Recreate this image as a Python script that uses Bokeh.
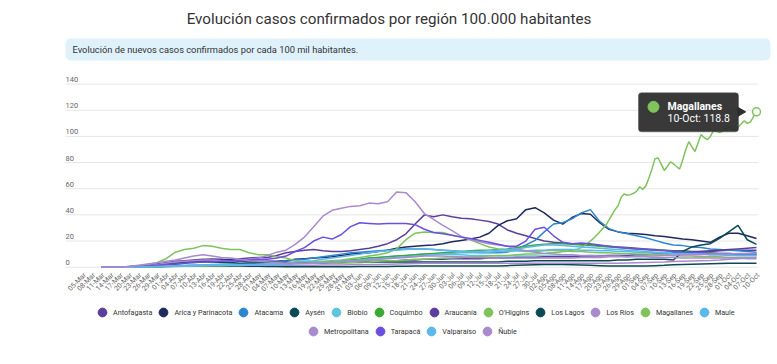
import math
from datetime import date, timedelta

from bokeh.plotting import figure
from bokeh.models import Legend, LegendItem, BoxAnnotation, Label, Range1d
from bokeh.core.properties import value
from bokeh.embed import file_html
from bokeh.resources import INLINE

# ---------------------------------------------------------------- data
TITLE = "Evolución casos confirmados por región 100.000 habitantes"
SUBTITLE = "Evolución de nuevos casos confirmados por cada 100 mil habitantes."

START = date(2020, 3, 5)                      # first category of the x axis
N_DAYS = 220                                  # 05-Mar .. 10-Oct
MONTHS_ES = {3: "Mar", 4: "Abr", 5: "May", 6: "Jun", 7: "Jul", 8: "Ago", 9: "Sep", 10: "Oct"}
LABEL_DAYS = list(range(0, N_DAYS, 3))
X_LABELS = [f"{(START + timedelta(d)).day:02d}-{MONTHS_ES[(START + timedelta(d)).month]}"
            for d in LABEL_DAYS]
DATA_DAYS = list(range(6, N_DAYS, 3))         # readings every 3 days from 11-Mar
Y_TICKS = [0, 20, 40, 60, 80, 100, 120, 140]

ANTOFAGASTA = [0, 0, 0, 0.2, 0.5, 1, 1.5, 2, 3, 3.5,
               4, 4.5, 5, 5.5, 6, 6.5, 7, 7.5, 7.5, 9,
               11, 12, 13, 13.5, 12.5, 12, 12, 12.5, 13.5, 14.5,
               16, 18, 21, 25.5, 33, 40, 38.5, 40, 38.5, 37.5,
               37, 36, 35, 33, 28.5, 26, 24, 22, 20, 19,
               18.5, 18, 17.5, 17, 16.5, 16, 15.5, 15, 14.5, 14,
               13.5, 13, 12.5, 12.5, 12, 12, 12, 12.5, 13, 13,
               13, 13]
ARICA = [0, 0, 0, 0.3, 0.6, 1, 1.5, 2, 2.5, 3,
         5, 5.5, 6, 6, 5.5, 5, 5, 4.5, 4.5, 4.5,
         5, 6, 6.5, 7, 7.5, 8, 9, 10, 10.5, 11,
         12, 13, 14.5, 15.5, 16, 16.5, 17, 18, 19.5, 20.5,
         21.5, 23, 26, 32, 35.5, 37, 44, 45.5, 41.5, 36,
         33, 38, 41, 40.5, 34, 29, 27, 26, 25.5, 25,
         24, 23.5, 22.5, 21.5, 21, 20, 19, 23, 26, 26,
         24, 22]
ATACAMA = [0, 0, 0, 0, 0.2, 0.4, 0.6, 0.8, 1, 1.2,
           1.5, 1.5, 2, 2, 2.5, 2.5, 3, 3, 3.5, 4,
           4.5, 5.5, 6, 7, 8, 9, 10, 11, 11.5, 12,
           12.5, 13, 13.5, 14, 14, 14, 13.5, 13, 12.5, 12,
           11.5, 11, 11, 11, 11.5, 14, 17, 20.5, 27, 33,
           34, 37, 41.5, 44, 35, 29.5, 27, 25.5, 24, 22.5,
           20.5, 18.5, 17, 16.5, 15.5, 15, 14, 13.5, 13, 12.5,
           12, 11.5]
AYSEN = [0, 0, 0, 0, 0, 0, 0.3, 0.5, 0.7, 0.9,
         1, 1, 1, 1, 1, 0.9, 0.8, 0.7, 0.6, 0.5,
         0.4, 0.3, 0.3, 0.3, 0.3, 0.3, 0.3, 0.4, 0.5, 0.5,
         0.5, 0.6, 0.7, 0.8, 0.9, 1, 1, 1, 1, 1,
         1, 1, 1, 1, 1.2, 1.4, 1.6, 1.8, 2, 2,
         2, 1.8, 1.6, 1.4, 1.2, 1, 1, 1, 1, 1,
         1.2, 1.4, 1.8, 2, 2.2, 2.4, 2.6, 2.8, 3, 3,
         3, 3]
BIOBIO = [0, 0, 0, 0.2, 0.4, 0.6, 0.8, 1, 1.2, 1.4,
          1.5, 1.6, 1.7, 1.8, 1.8, 1.8, 1.8, 1.8, 1.9, 2,
          2.2, 2.8, 3, 3.5, 4, 4.5, 5, 5.5, 6, 7,
          7.5, 8, 8.5, 9, 9.5, 10, 10, 10, 9.5, 9.5,
          9, 9, 9, 8.5, 8.5, 8.5, 8.5, 8.5, 8.5, 8.5,
          8.5, 8.5, 8.5, 9, 9, 9, 9, 9, 9.5, 9.5,
          9.5, 9.5, 10, 10, 10, 10, 10, 10, 10, 10,
          10, 9.5]
COQUIMBO = [0, 0, 0, 0, 0.2, 0.4, 0.6, 0.8, 1, 1,
            1.2, 1.2, 1.5, 1.5, 1.5, 1.5, 1.5, 1.5, 2, 2,
            2, 3, 3, 3.5, 4, 4.5, 5, 5.5, 6, 7,
            7.5, 8, 8.5, 9, 9.5, 10, 10.5, 11, 11.5, 12,
            12.5, 13, 13, 13.5, 14, 15, 16, 17, 17.5, 18,
            18, 17.5, 17, 16.5, 16, 15.5, 15, 14.5, 14, 13.5,
            13, 13, 12, 12, 11.5, 11, 11, 10.5, 10.5, 10,
            10, 10]
ARAUCANIA = [0, 0, 0, 0.3, 0.8, 1.5, 2.5, 3.5, 4.5, 5,
             5.5, 6, 6, 5.5, 5, 4.5, 4, 4, 3.5, 3.5,
             3.5, 3.5, 3.5, 3.5, 3.5, 3.5, 4, 4, 4, 4.5,
             4.5, 5, 5, 5.5, 5.5, 6, 6, 6, 6.5, 6.5,
             6.5, 6.5, 7, 7, 7, 7.5, 7.5, 7.5, 8, 8,
             8, 8, 8.5, 8.5, 8.5, 9, 9, 9, 9.5, 9.5,
             10, 10, 11, 11, 11.5, 12, 12.5, 13, 13.5, 14,
             14.5, 15]
OHIGGINS = [0, 0, 0, 0, 0, 0.2, 0.3, 0.5, 0.6, 0.8,
            1, 1, 1.2, 1.2, 1.5, 1.5, 1.5, 2, 2, 2.5,
            2.5, 3, 3.5, 4, 4.5, 5, 5.5, 6.5, 7.5, 8.5,
            9.5, 11, 14, 21, 26, 27, 26.5, 26.5, 24.5, 23,
            21, 18, 15.5, 14, 13, 12.5, 12, 12, 12.5, 13,
            12.5, 12, 12, 11.5, 11, 11, 10.5, 10.5, 10, 10,
            9.5, 9.5, 9, 8.5, 8.5, 8, 8, 8, 7.5, 7.5,
            7.5, 7.5]
LOS_LAGOS = [0, 0, 0, 0.5, 1, 1.5, 2, 2.5, 3, 3.5,
             3.5, 4, 4, 3.5, 3.5, 3, 3, 3, 3, 3,
             3, 3, 3, 3, 3, 3.5, 3.5, 3.5, 3.5, 4,
             4, 4, 4, 4, 4, 4, 4, 4, 4, 4,
             4, 4, 4, 4, 4.5, 4.5, 4.5, 5, 5, 5,
             5, 5, 5, 5, 5, 5, 5.5, 5.5, 6, 6,
             6, 6, 5.5, 12, 15.5, 17, 18, 22, 27, 32,
             21, 17.5]
LOS_RIOS = [0, 0, 0, 0.2, 0.4, 0.6, 0.8, 1, 1, 1.2,
            1.2, 1.4, 1.4, 1.5, 1.5, 1.5, 1.5, 1.5, 1.5, 1.5,
            1.5, 1.5, 1.5, 1.5, 1.6, 1.6, 1.7, 1.8, 1.9, 2,
            2, 2.2, 2.4, 2.6, 2.8, 3, 3, 3, 3, 3,
            3, 3, 3, 3, 3, 3, 3, 3, 3, 3,
            3, 3, 3, 3, 3, 3, 3, 3.2, 3.4, 3.6,
            3.8, 4, 4.4, 4.6, 4.8, 5, 5.2, 5.5, 6, 6.5,
            7, 7.5]
# Magallanes: every 3 days until late July, then daily readings (02-Ago .. 10-Oct)
MAGALLANES_EARLY = [0, 0, 0, 0.5, 1, 2, 3.5, 6.5, 11.5, 13.5,
                    14.5, 16.5, 16, 14.5, 13.5, 13.5, 11, 9.5, 9.5, 8,
                    7, 5, 4.5, 4, 3.5, 3, 3, 3.5, 4, 4,
                    4.5, 5, 5, 5.5, 6, 6, 6.5, 7, 7, 7.5,
                    8, 8, 8.5, 9, 9, 9.5, 10, 10]
MAGALLANES_LATE = [10.5, 10.8, 11, 11, 11.5, 11.5, 12, 12, 12.5, 13,
                   13.5, 14, 15, 16.5, 18, 20, 22, 24.5, 27, 29.5,
                   32, 36, 40, 44, 47, 53.5, 56, 55, 55.5, 56.5,
                   58, 61.5, 59.5, 62, 68, 75, 83, 83.5, 79, 74,
                   77, 80.5, 79, 77, 75, 82, 90, 96, 92, 88.5,
                   95, 101.5, 99, 97.5, 100, 104.5, 104, 103, 104, 106,
                   107, 106, 105, 107, 109.5, 112, 110, 111, 115, 118.8]
MAGALLANES_DAYS = DATA_DAYS[:len(MAGALLANES_EARLY)] + list(range(150, N_DAYS))
MAGALLANES = MAGALLANES_EARLY + MAGALLANES_LATE
MAULE = [0, 0, 0, 0, 0.2, 0.3, 0.5, 0.6, 0.8, 1,
         1.2, 1.3, 1.4, 1.5, 1.5, 1.6, 1.7, 1.8, 2, 2,
         2.2, 2.6, 2.8, 3, 3.5, 4, 4.5, 5, 5.5, 6,
         6.5, 7, 7.5, 8, 8.5, 9, 9.5, 10, 10.5, 11,
         11, 11.5, 11.5, 12, 12, 12.5, 12.5, 13, 13, 13.5,
         13.5, 13.5, 13, 13, 12.5, 12.5, 12, 12, 11.5, 11.5,
         11, 11, 10.5, 10, 10, 10, 9.5, 9.5, 9.5, 9,
         9, 9]
METROPOLITANA = [0, 0, 0.1, 0.3, 0.6, 1.2, 2, 3, 4, 4.5,
                 5, 5.5, 5.5, 5, 5, 5.5, 6, 7, 9, 11.5,
                 13, 17.5, 23, 31, 39, 43.5, 45, 46.5, 47, 49,
                 48.5, 50, 57.5, 57, 50, 41, 36.5, 32, 28, 23.5,
                 21, 19.5, 18, 17, 16, 14, 12.5, 11.5, 10.5, 10,
                 9.5, 9.5, 9, 9, 8.5, 8.5, 8.5, 8, 8, 8,
                 7.5, 7.5, 7.5, 7, 7, 7, 7, 7, 7, 7,
                 6.5, 6.5]
TARAPACA = [0, 0, 0, 0.2, 0.5, 1, 1.5, 2, 2.5, 3,
            3.5, 4, 4, 4.5, 5, 5, 5.5, 6, 6, 7,
            8.5, 12, 15, 20, 23, 21.5, 25, 31, 34, 33.5,
            33, 33.5, 33.5, 33.5, 32.5, 29, 26.5, 25.5, 24.5, 23,
            22, 20.5, 19, 17.5, 16, 16, 20, 29, 30.5, 24,
            19, 18, 18.5, 18, 17, 16, 15, 14.5, 14, 13.5,
            13, 12.5, 12, 11.5, 11, 11, 10.5, 10.5, 10.5, 10,
            10, 10]
VALPARAISO = [0, 0, 0, 0, 0.2, 0.4, 0.6, 0.8, 1, 1.2,
              1.5, 1.5, 1.8, 2, 2, 2, 2.2, 2.4, 2.6, 2.8,
              3, 4, 4.5, 5, 6, 7, 8, 9, 10, 11,
              12, 12.5, 13, 13.5, 14, 14, 13.5, 13, 12.5, 12,
              12, 12, 12.5, 13, 13.5, 14, 15, 16, 17, 17,
              16.5, 16, 15.5, 15, 14.5, 14, 13.5, 13, 12.5, 12,
              11.5, 11, 10.5, 10.5, 10, 10, 9.5, 9.5, 9, 9,
              9, 9]
NUBLE = [0, 0, 0, 0.5, 1.5, 2.5, 3.5, 4.5, 5.5, 7,
         8.5, 9.5, 8.5, 7.5, 7, 6, 5, 4.5, 4, 3.5,
         3, 3, 3, 3, 3.2, 3.5, 4, 4.5, 5, 5.5,
         6, 6.5, 7, 7.5, 8, 8.5, 8.5, 8.5, 8, 8,
         7.5, 7.5, 7, 7, 7, 7, 7, 7, 7, 7,
         7, 7, 7.5, 7.5, 7.5, 8, 8, 8, 8.5, 8.5,
         8.5, 9, 9, 9.5, 9.5, 9.5, 10, 10, 10, 10.5,
         10.5, 10.5]

SERIES = [  # (name, x values, y values, colour) in legend order
    ("Antofagasta", DATA_DAYS, ANTOFAGASTA, "#5b3f9b"),
    ("Arica y Parinacota", DATA_DAYS, ARICA, "#1f2a5c"),
    ("Atacama", DATA_DAYS, ATACAMA, "#2d87cf"),
    ("Aysén", DATA_DAYS, AYSEN, "#0b4a55"),
    ("Biobío", DATA_DAYS, BIOBIO, "#5ec5dc"),
    ("Coquimbo", DATA_DAYS, COQUIMBO, "#3aa935"),
    ("Araucanía", DATA_DAYS, ARAUCANIA, "#5b3f9b"),
    ("O'Higgins", DATA_DAYS, OHIGGINS, "#7ec35b"),
    ("Los Lagos", DATA_DAYS, LOS_LAGOS, "#0b4a55"),
    ("Los Ríos", DATA_DAYS, LOS_RIOS, "#a98bcd"),
    ("Magallanes", MAGALLANES_DAYS, MAGALLANES, "#7ec35b"),
    ("Maule", DATA_DAYS, MAULE, "#5ab8ea"),
    ("Metropolitana", DATA_DAYS, METROPOLITANA, "#a98bcd"),
    ("Tarapacá", DATA_DAYS, TARAPACA, "#6b4fe0"),
    ("Valparaíso", DATA_DAYS, VALPARAISO, "#5ab8ea"),
    ("Ñuble", DATA_DAYS, NUBLE, "#a98bcd"),
]
HIGHLIGHT = "Magallanes"

# ---------------------------------------------------------------- layout (pixels)
W, H = 775, 360
DAY0_PX, PX_PER_DAY = 82.55, 3.075      # where 05-Mar sits, and pixels per day
ZERO_PX, PX_PER_UNIT = 266.7, 1.3078    # where 0 sits, and pixels per unit
PLOT_LEFT_PX, PLOT_RIGHT_PX = 65, 758

X_START = -DAY0_PX / PX_PER_DAY
X_END = X_START + W / PX_PER_DAY
Y_END = ZERO_PX / PX_PER_UNIT
Y_START = Y_END - H / PX_PER_UNIT
GRID_X0 = X_START + PLOT_LEFT_PX / PX_PER_DAY
GRID_X1 = X_START + PLOT_RIGHT_PX / PX_PER_DAY

p = figure(width=W, height=H, x_range=Range1d(X_START, X_END), y_range=Range1d(Y_START, Y_END),
           x_axis_type=None, y_axis_type=None, toolbar_location=None, output_backend="svg",
           min_border=0, min_border_left=0, min_border_right=0, min_border_top=0,
           min_border_bottom=0)
p.outline_line_color = None
p.background_fill_color = "white"
p.border_fill_color = "white"

# horizontal grid lines and y tick labels (labels sit above their line)
p.segment(x0=[GRID_X0] * len(Y_TICKS), x1=[GRID_X1] * len(Y_TICKS), y0=Y_TICKS, y1=Y_TICKS,
          line_color="#e6e6e6", line_width=1)
p.text(x=[GRID_X0] * len(Y_TICKS), y=Y_TICKS, text=[str(t) for t in Y_TICKS],
       text_font=value("Roboto"), text_font_size="7.5px", text_color="#666666",
       text_align="left", text_baseline="bottom", y_offset=-2)

# rotated category labels of the x axis
p.text(x=LABEL_DAYS, y=[0] * len(LABEL_DAYS), text=X_LABELS, angle=math.pi / 4,
       text_font=value("Roboto"), text_font_size="7px", text_color="#666666",
       text_align="right", text_baseline="middle", x_offset=2, y_offset=7)

legend_items = []
for name, xs, ys, color in SERIES:
    p.line(xs, ys, line_color=color, line_width=1.5)
    dummy = p.scatter(x=[math.nan], y=[math.nan], marker="circle", size=9,
                      fill_color=color, line_color=color)
    legend_items.append(LegendItem(label=name, renderers=[dummy]))

legend_style = dict(orientation="horizontal", glyph_width=22, glyph_height=22,
                    label_standoff=0, spacing=0, padding=0, margin=0,
                    border_line_color=None, background_fill_alpha=0,
                    label_text_font="Roboto", label_text_font_size="7.2px",
                    label_text_color="#333333")
p.add_layout(Legend(items=legend_items[:12], location=(91, H - 323), **legend_style))
p.add_layout(Legend(items=legend_items[12:], location=(302, H - 342), **legend_style))

# ---------------------------------------------------------------- tooltip on last Magallanes point
mag_color = [c for n, _, _, c in SERIES if n == HIGHLIGHT][0]
xl, yl = MAGALLANES_DAYS[-1], MAGALLANES[-1]
tip_col = "#2e2e2e"
p.add_layout(BoxAnnotation(left=xl - 118 / PX_PER_DAY, right=xl - 18 / PX_PER_DAY,
                           bottom=yl - 20 / PX_PER_UNIT, top=yl + 19 / PX_PER_UNIT,
                           fill_color=tip_col, fill_alpha=0.95, line_color="#555555",
                           line_alpha=0.5, border_radius=3, level="annotation"))
p.scatter(x=[xl - 16 / PX_PER_DAY], y=[yl], marker="triangle", angle=-math.pi / 2, size=9,
          fill_color=tip_col, line_color=tip_col, level="overlay")
p.scatter(x=[xl - 103 / PX_PER_DAY], y=[yl + 5 / PX_PER_UNIT], marker="circle", size=11,
          fill_color=mag_color, line_color=mag_color, level="overlay")
p.text(x=[xl], y=[yl], text=[HIGHLIGHT], x_offset=-89, y_offset=-5,
       text_font=value("Roboto"), text_font_style="bold", text_font_size="10.5px",
       text_color="white", text_baseline="middle", level="overlay")
p.text(x=[xl], y=[yl], text=[f"{X_LABELS[-1]}: {yl:.1f}"], x_offset=-89, y_offset=7,
       text_font=value("Roboto"), text_font_size="10.5px",
       text_color="white", text_baseline="middle", level="overlay")
p.scatter(x=[xl], y=[yl], marker="circle", size=8, fill_color="white",
          line_color=mag_color, line_width=1.5)

# ---------------------------------------------------------------- title & subtitle
p.add_layout(Label(x=388.5, y=18, x_units="canvas", y_units="canvas", text=TITLE,
                   text_align="center", text_baseline="middle",
                   text_font="Roboto", text_font_size="15.2px",
                   text_color="#333333"))
p.add_layout(BoxAnnotation(left=65, right=770, top=38, bottom=60,
                           left_units="canvas", right_units="canvas",
                           top_units="canvas", bottom_units="canvas",
                           fill_color="#dff2fc", fill_alpha=1, line_color=None,
                           border_radius=5, level="underlay"))
p.add_layout(Label(x=72, y=49, x_units="canvas", y_units="canvas", text=SUBTITLE,
                   text_align="left", text_baseline="middle",
                   text_font="Roboto", text_font_size="9.3px",
                   text_color="#333333"))

open("out.html", "w").write(file_html(p, INLINE))
